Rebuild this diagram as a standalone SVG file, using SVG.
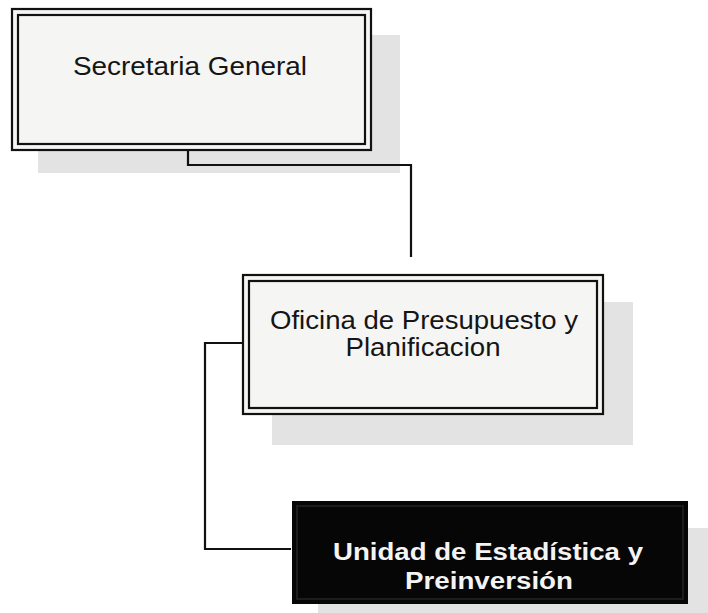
<svg xmlns="http://www.w3.org/2000/svg" width="708" height="613" viewBox="0 0 708 613">
<style>
.shadow{fill:#e3e3e4;}
.boxfill{fill:#f5f5f4;}
.dbl{fill:none;stroke:#111;stroke-width:2.2;}
.conn{fill:none;stroke:#111;stroke-width:2.2;}
.lbl{font-family:"Liberation Sans",Arial,sans-serif;font-size:25px;fill:#151515;text-anchor:middle;}
.lblb{font-family:"Liberation Sans",Arial,sans-serif;font-size:24px;font-weight:bold;fill:#f4f4f4;text-anchor:middle;}
</style>
<rect width="708" height="613" fill="#ffffff"/>
<g id="node-secretaria">
<rect class="shadow" x="38" y="35" width="362" height="138"/>
<rect class="boxfill" x="12" y="9" width="359" height="141"/>
<rect class="dbl" x="12" y="9" width="359" height="141"/>
<rect class="dbl" x="18" y="15" width="347" height="129"/>
<text class="lbl" x="190" y="75" textLength="234" lengthAdjust="spacingAndGlyphs">Secretaria General</text>
</g>
<g id="node-oficina">
<rect class="shadow" x="272" y="302" width="361" height="143"/>
<rect class="boxfill" x="243" y="275" width="360" height="139"/>
<rect class="dbl" x="243" y="275" width="360" height="139"/>
<rect class="dbl" x="249" y="281" width="348" height="127"/>
<text class="lbl" x="424" y="329" textLength="308" lengthAdjust="spacingAndGlyphs">Oficina de Presupuesto y</text>
<text class="lbl" x="423" y="356" textLength="155" lengthAdjust="spacingAndGlyphs">Planificacion</text>
</g>
<g id="node-unidad">
<rect class="shadow" x="318" y="528" width="400" height="100"/>
<rect x="292" y="501" width="396" height="103" fill="#060606"/>
<rect x="297" y="506" width="386" height="93" fill="none" stroke="#1c1c1c" stroke-width="2"/>
<text class="lblb" x="488" y="560" textLength="310" lengthAdjust="spacingAndGlyphs">Unidad de Estadística y</text>
<text class="lblb" x="489" y="589" textLength="168" lengthAdjust="spacingAndGlyphs">Preinversión</text>
</g>
<g id="connectors">
<polyline class="conn" points="188,151 188,165 411,165 411,257"/>
<polyline class="conn" points="242,343 205,343 205,549 291,549"/>
</g>
</svg>
